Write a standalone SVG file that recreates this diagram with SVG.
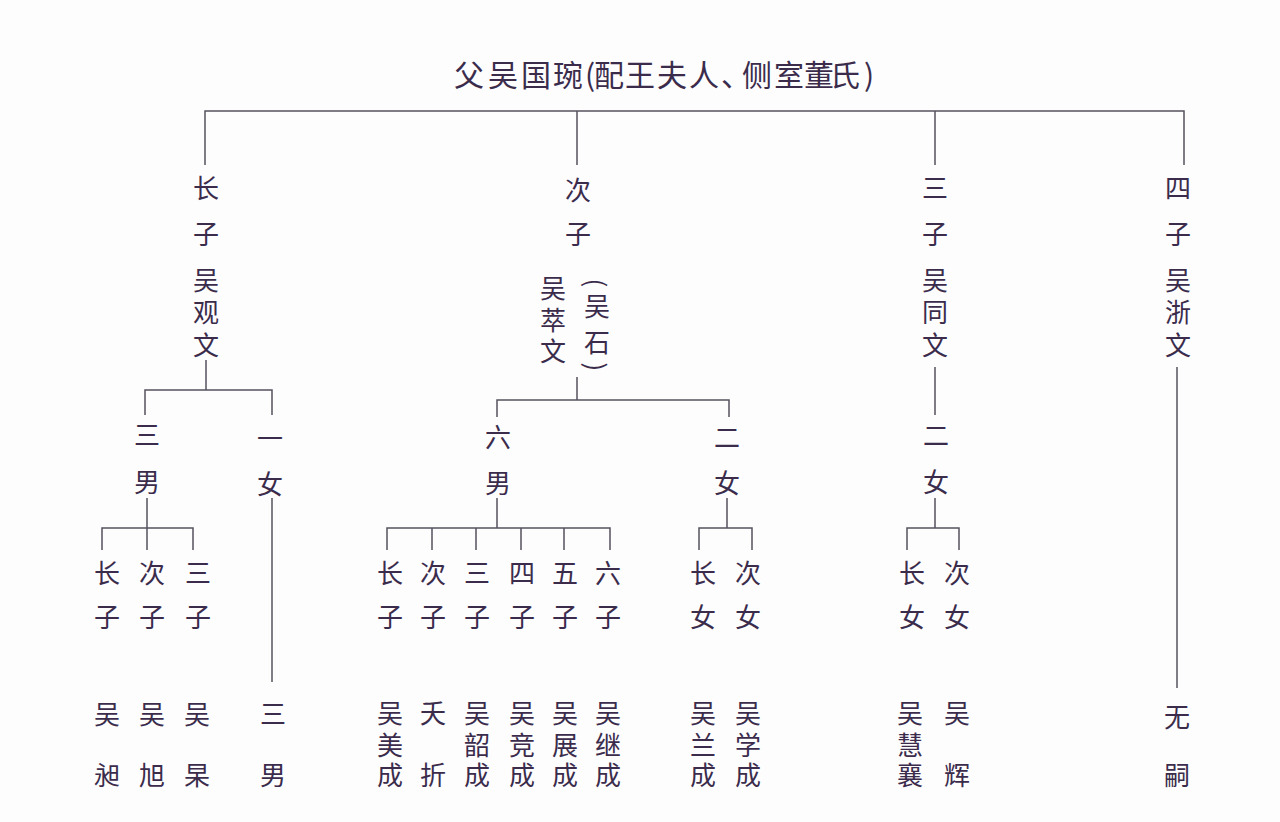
<svg xmlns="http://www.w3.org/2000/svg" width="1280" height="822" viewBox="0 0 1280 822">
<style>
text{font-family:"Noto Sans CJK SC","Noto Sans CJK TC",sans-serif;font-size:26px;fill:#3b2c4c;text-anchor:middle;}
.title{font-size:30px;text-anchor:start;}
.br{dominant-baseline:central;}
.ln{fill:none;stroke:#55525e;stroke-width:1.5;}
</style>
<rect x="0" y="0" width="1280" height="822" fill="#fdfdfe"/>
<g id="connectors" class="ln">
<path d="M205 165V111H1184V165M577 111V165M935 111V165"/>
<path d="M206 360V390M145 415V390H272V415"/>
<path d="M147 498V550M102 550V528H193V550"/>
<path d="M272 498V682"/>
<path d="M577 377V400M497 417V400H729V417"/>
<path d="M497 498V528M387 550V528H610V550M432 528V550M476 528V550M521 528V550M564 528V550"/>
<path d="M727 498V528M699 550V528H752V550"/>
<path d="M935 367V415M935 498V528M907 550V528H959V550"/>
<path d="M1177 367V688"/>
</g>
<g id="father"><text class="title" x="454 488 521 553 585 594 625 657 689 721 742 774 804 830 864" y="86">父吴国琬(配王夫人、侧室董氏)</text></g>
<g id="son1">
<text x="206" y="198">长</text><text x="206" y="244">子</text><text><tspan x="206" y="290">吴</tspan><tspan x="206" y="322">观</tspan><tspan x="206" y="355">文</tspan></text>
</g>
<g id="son1-sons"><text x="147" y="445">三</text><text x="147" y="492">男</text></g>
<g id="son1-daughter"><text x="270" y="448">一</text><text x="270" y="494">女</text></g>
<g id="son1-s1"><text x="107" y="583">长</text><text x="107" y="627">子</text><text x="107" y="724">吴</text><text x="107" y="785">昶</text></g>
<g id="son1-s2"><text x="152" y="583">次</text><text x="152" y="627">子</text><text x="152" y="724">吴</text><text x="152" y="785">旭</text></g>
<g id="son1-s3"><text x="198" y="583">三</text><text x="198" y="627">子</text><text x="197" y="724">吴</text><text x="197" y="785">杲</text></g>
<g id="son1-d-children"><text x="273" y="724">三</text><text x="273" y="785">男</text></g>
<g id="son2">
<text x="578" y="200">次</text><text x="578" y="244">子</text>
<text><tspan x="553" y="298">吴</tspan><tspan x="553" y="330">萃</tspan><tspan x="553" y="361">文</tspan></text>
<text class="br" x="597" y="283" transform="rotate(90 597 283)">(</text><text><tspan x="597" y="316">吴</tspan><tspan x="597" y="352">石</tspan></text><text class="br" x="597" y="367" transform="rotate(90 597 367)">)</text>
</g>
<g id="son2-sons"><text x="498" y="447">六</text><text x="498" y="493">男</text></g>
<g id="son2-daughters"><text x="727" y="447">二</text><text x="727" y="493">女</text></g>
<g id="son2-s1"><text x="390" y="583">长</text><text x="390" y="627">子</text><text><tspan x="390" y="723">吴</tspan><tspan x="390" y="755">美</tspan><tspan x="390" y="785">成</tspan></text></g>
<g id="son2-s2"><text x="433" y="583">次</text><text x="433" y="627">子</text><text x="433" y="723">夭</text><text x="433" y="785">折</text></g>
<g id="son2-s3"><text x="477" y="583">三</text><text x="477" y="627">子</text><text><tspan x="477" y="723">吴</tspan><tspan x="477" y="755">韶</tspan><tspan x="477" y="785">成</tspan></text></g>
<g id="son2-s4"><text x="522" y="583">四</text><text x="522" y="627">子</text><text><tspan x="522" y="723">吴</tspan><tspan x="522" y="755">竞</tspan><tspan x="522" y="785">成</tspan></text></g>
<g id="son2-s5"><text x="565" y="583">五</text><text x="565" y="627">子</text><text><tspan x="565" y="723">吴</tspan><tspan x="565" y="755">展</tspan><tspan x="565" y="785">成</tspan></text></g>
<g id="son2-s6"><text x="608" y="583">六</text><text x="608" y="627">子</text><text><tspan x="608" y="723">吴</tspan><tspan x="608" y="755">继</tspan><tspan x="608" y="785">成</tspan></text></g>
<g id="son2-d1"><text x="703" y="583">长</text><text x="703" y="627">女</text><text><tspan x="703" y="723">吴</tspan><tspan x="703" y="755">兰</tspan><tspan x="703" y="785">成</tspan></text></g>
<g id="son2-d2"><text x="748" y="583">次</text><text x="748" y="627">女</text><text><tspan x="748" y="723">吴</tspan><tspan x="748" y="755">学</tspan><tspan x="748" y="785">成</tspan></text></g>
<g id="son3">
<text x="935" y="198">三</text><text x="935" y="244">子</text><text><tspan x="935" y="290">吴</tspan><tspan x="935" y="322">同</tspan><tspan x="935" y="355">文</tspan></text>
</g>
<g id="son3-daughters"><text x="936" y="445">二</text><text x="936" y="492">女</text></g>
<g id="son3-d1"><text x="912" y="583">长</text><text x="912" y="627">女</text><text><tspan x="910" y="723">吴</tspan><tspan x="910" y="755">慧</tspan><tspan x="910" y="785">襄</tspan></text></g>
<g id="son3-d2"><text x="957" y="583">次</text><text x="957" y="627">女</text><text x="957" y="723">吴</text><text x="957" y="785">辉</text></g>
<g id="son4">
<text x="1178" y="198">四</text><text x="1178" y="244">子</text><text><tspan x="1178" y="290">吴</tspan><tspan x="1178" y="322">浙</tspan><tspan x="1178" y="355">文</tspan></text>
</g>
<g id="son4-none"><text x="1177" y="727">无</text><text x="1177" y="785">嗣</text></g>
</svg>
